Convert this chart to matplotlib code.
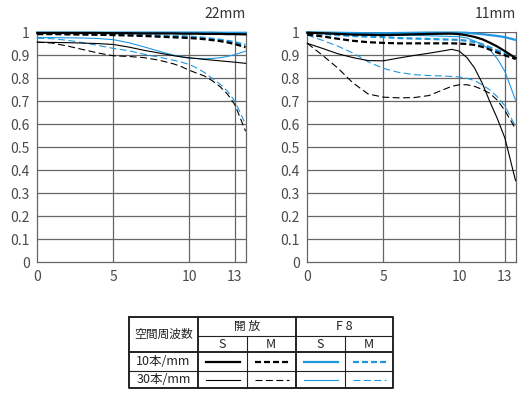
import matplotlib
matplotlib.use('Agg')
import matplotlib.pyplot as plt

plt.rcParams['font.family'] = ['Noto Sans CJK JP', 'DejaVu Sans']
plt.rcParams['lines.scale_dashes'] = False

# spatial position (mm from image centre)
x_pos = [0, 1, 2, 3, 4, 5, 6, 7, 8, 9, 9.5, 10, 10.5, 11, 11.5, 12, 12.5, 13, 13.7]

# 22mm
w_open10_s = [0.997, 0.997, 0.997, 0.997, 0.997, 0.996, 0.996, 0.995, 0.995, 0.995,
              0.994, 0.994, 0.994, 0.993, 0.993, 0.993, 0.992, 0.992, 0.991]
w_open10_m = [0.992, 0.992, 0.991, 0.990, 0.989, 0.988, 0.986, 0.984, 0.981, 0.978,
              0.977, 0.975, 0.973, 0.970, 0.966, 0.962, 0.956, 0.949, 0.935]
w_f8_10_s = [0.999, 0.999, 0.999, 0.999, 0.999, 0.999, 0.999, 0.999, 0.999, 0.999,
             0.999, 0.999, 0.999, 0.999, 0.999, 0.998, 0.998, 0.998, 0.998]
w_f8_10_m = [0.995, 0.995, 0.994, 0.993, 0.992, 0.991, 0.990, 0.988, 0.986, 0.984,
             0.983, 0.981, 0.979, 0.976, 0.972, 0.968, 0.963, 0.957, 0.945]
w_open30_s = [0.957, 0.956, 0.955, 0.953, 0.951, 0.947, 0.936, 0.922, 0.910, 0.898,
              0.893, 0.889, 0.886, 0.882, 0.879, 0.876, 0.873, 0.870, 0.865]
w_open30_m = [0.957, 0.953, 0.940, 0.925, 0.910, 0.898, 0.895, 0.890, 0.879, 0.862,
              0.850, 0.835, 0.822, 0.810, 0.790, 0.765, 0.732, 0.685, 0.570]
w_f8_30_s = [0.977, 0.977, 0.976, 0.975, 0.973, 0.968, 0.955, 0.937, 0.918, 0.900,
             0.893, 0.887, 0.886, 0.885, 0.886, 0.889, 0.895, 0.903, 0.918]
w_f8_30_m = [0.974, 0.972, 0.965, 0.955, 0.943, 0.930, 0.920, 0.905, 0.892, 0.878,
             0.870, 0.860, 0.845, 0.825, 0.800, 0.776, 0.745, 0.700, 0.600]

# 11mm
t_open10_s = [0.998, 0.996, 0.993, 0.990, 0.989, 0.988, 0.989, 0.991, 0.993, 0.994,
              0.994, 0.992, 0.987, 0.980, 0.970, 0.955, 0.938, 0.918, 0.888]
t_open10_m = [0.990, 0.982, 0.972, 0.963, 0.957, 0.954, 0.952, 0.952, 0.952, 0.952,
              0.952, 0.951, 0.949, 0.945, 0.937, 0.925, 0.912, 0.900, 0.884]
t_f8_10_s = [1.000, 0.999, 0.998, 0.997, 0.996, 0.996, 0.997, 0.998, 0.999, 0.999,
             0.999, 0.999, 0.998, 0.995, 0.992, 0.988, 0.984, 0.979, 0.967]
t_f8_10_m = [0.996, 0.993, 0.988, 0.984, 0.981, 0.979, 0.975, 0.973, 0.971, 0.969,
             0.968, 0.967, 0.963, 0.958, 0.948, 0.935, 0.921, 0.910, 0.892]
t_open30_s = [0.952, 0.930, 0.907, 0.890, 0.877, 0.876, 0.888, 0.899, 0.909, 0.920,
              0.926, 0.918, 0.890, 0.845, 0.780, 0.700, 0.625, 0.540, 0.355]
t_open30_m = [0.952, 0.900, 0.845, 0.780, 0.732, 0.718, 0.715, 0.716, 0.725, 0.752,
              0.765, 0.772, 0.772, 0.765, 0.752, 0.735, 0.705, 0.660, 0.580]
t_f8_30_s = [0.999, 0.997, 0.995, 0.993, 0.991, 0.990, 0.988, 0.987, 0.985, 0.983,
             0.982, 0.981, 0.975, 0.962, 0.947, 0.925, 0.885, 0.830, 0.705]
t_f8_30_m = [0.988, 0.965, 0.940, 0.910, 0.872, 0.843, 0.826, 0.816, 0.812, 0.810,
             0.808, 0.806, 0.800, 0.790, 0.772, 0.750, 0.720, 0.680, 0.590]

x_ticks = [0, 5, 10, 13]
y_ticks = [0, 0.1, 0.2, 0.3, 0.4, 0.5, 0.6, 0.7, 0.8, 0.9, 1]
y_labels = ['0', '0.1', '0.2', '0.3', '0.4', '0.5', '0.6', '0.7', '0.8', '0.9', '1']

BLUE = '#1f97df'
GRID = '#666666'
TXT = '#4a4a4a'

styles = {
    'open10_s': dict(color='black', lw=1.6, ls='-'),
    'open10_m': dict(color='black', lw=1.6, ls=(0, (4.3, 2.2))),
    'f8_10_s': dict(color=BLUE, lw=1.6, ls='-'),
    'f8_10_m': dict(color=BLUE, lw=1.6, ls=(0, (4.3, 2.2))),
    'open30_s': dict(color='black', lw=0.8, ls='-'),
    'open30_m': dict(color='black', lw=0.8, ls=(0, (5, 2.5))),
    'f8_30_s': dict(color=BLUE, lw=0.8, ls='-'),
    'f8_30_m': dict(color=BLUE, lw=0.8, ls=(0, (5, 2.5))),
}
draw_order = ['f8_30_m', 'f8_30_s', 'open30_m', 'open30_s',
              'f8_10_m', 'f8_10_s', 'open10_m', 'open10_s']

panels = [
    ('22mm', dict(open10_s=w_open10_s, open10_m=w_open10_m, f8_10_s=w_f8_10_s,
                  f8_10_m=w_f8_10_m, open30_s=w_open30_s, open30_m=w_open30_m,
                  f8_30_s=w_f8_30_s, f8_30_m=w_f8_30_m), 37.3),
    ('11mm', dict(open10_s=t_open10_s, open10_m=t_open10_m, f8_10_s=t_f8_10_s,
                  f8_10_m=t_f8_10_m, open30_s=t_open30_s, open30_m=t_open30_m,
                  f8_30_s=t_f8_30_s, f8_30_m=t_f8_30_m), 307.3),
]

W, H = 532, 399
fig = plt.figure(figsize=(W / 100, H / 100), dpi=100)
fig.patch.set_facecolor('white')

for title, series, left_px in panels:
    ax = fig.add_axes([left_px / W, (H - 262.3) / H, 208.4 / W, 230 / H])
    ax.set_xlim(0, 13.71)
    ax.set_ylim(0, 1)
    for v in x_ticks[1:]:
        ax.axvline(v, color=GRID, lw=0.9, zorder=1)
    for v in y_ticks[1:]:
        ax.axhline(v, color=GRID, lw=0.9, zorder=1)
    for sp in ax.spines.values():
        sp.set_color(GRID)
        sp.set_linewidth(0.9)
    ax.spines['top'].set_visible(False)
    for key in draw_order:
        st = styles[key]
        ax.plot(x_pos, series[key], color=st['color'], lw=st['lw'],
                linestyle=st['ls'], clip_on=False, zorder=3)
    ax.set_xticks(x_ticks)
    ax.set_xticklabels([str(t) for t in x_ticks])
    ax.set_yticks(y_ticks)
    ax.set_yticklabels(y_labels)
    ax.tick_params(length=0, labelsize=10, labelcolor=TXT, pad=5.5)
    ax.text(1.0, 1.05, title, transform=ax.transAxes, ha='right', va='bottom',
            fontsize=10, color='#333333')

# legend table (pixel coordinates of the figure)
tab = fig.add_axes([0, 0, 1, 1])
tab.set_xlim(0, W)
tab.set_ylim(H, 0)
tab.axis('off')

cols = [129.3, 197.7, 246.7, 295.7, 345.0, 393.3]
rows = [316.7, 336.0, 352.3, 370.7, 388.3]
thick, thin = 1.4, 0.8
tc = '#222222'

# outer border and main separators
tab.plot([cols[0], cols[5], cols[5], cols[0], cols[0]],
         [rows[0], rows[0], rows[4], rows[4], rows[0]], color=tc, lw=thick)
tab.plot([cols[0], cols[5]], [rows[2], rows[2]], color=tc, lw=thick)
tab.plot([cols[1], cols[1]], [rows[0], rows[4]], color=tc, lw=thick)
tab.plot([cols[3], cols[3]], [rows[0], rows[4]], color=tc, lw=thick)
tab.plot([cols[1], cols[5]], [rows[1], rows[1]], color=tc, lw=thin)
tab.plot([cols[0], cols[5]], [rows[3], rows[3]], color=tc, lw=thin)
tab.plot([cols[2], cols[2]], [rows[1], rows[4]], color=tc, lw=thin)
tab.plot([cols[4], cols[4]], [rows[1], rows[4]], color=tc, lw=thin)

fs = 8.5
tab.text((cols[0] + cols[1]) / 2, (rows[0] + rows[2]) / 2, '空間周波数',
         ha='center', va='center', fontsize=fs, color=tc)
tab.text((cols[1] + cols[3]) / 2, (rows[0] + rows[1]) / 2, '開 放',
         ha='center', va='center', fontsize=fs, color=tc)
tab.text((cols[3] + cols[5]) / 2, (rows[0] + rows[1]) / 2, 'F 8',
         ha='center', va='center', fontsize=fs + 0.5, color=tc)
for i, lab in enumerate(['S', 'M', 'S', 'M']):
    tab.text((cols[i + 1] + cols[i + 2]) / 2, (rows[1] + rows[2]) / 2, lab,
             ha='center', va='center', fontsize=fs + 0.5, color=tc)
tab.text((cols[0] + cols[1]) / 2, (rows[2] + rows[3]) / 2, '10本/mm',
         ha='center', va='center', fontsize=fs + 0.5, color=tc)
tab.text((cols[0] + cols[1]) / 2, (rows[3] + rows[4]) / 2, '30本/mm',
         ha='center', va='center', fontsize=fs + 0.5, color=tc)

legend_rows = [['open10_s', 'open10_m', 'f8_10_s', 'f8_10_m'],
               ['open30_s', 'open30_m', 'f8_30_s', 'f8_30_m']]
for r, keys in enumerate(legend_rows):
    yc = (rows[r + 2] + rows[r + 3]) / 2
    for c, key in enumerate(keys):
        st = styles[key]
        tab.plot([cols[c + 1] + 8, cols[c + 2] - 7], [yc, yc], color=st['color'],
                 lw=st['lw'], linestyle=st['ls'])

fig.savefig('out.png', dpi=100)
